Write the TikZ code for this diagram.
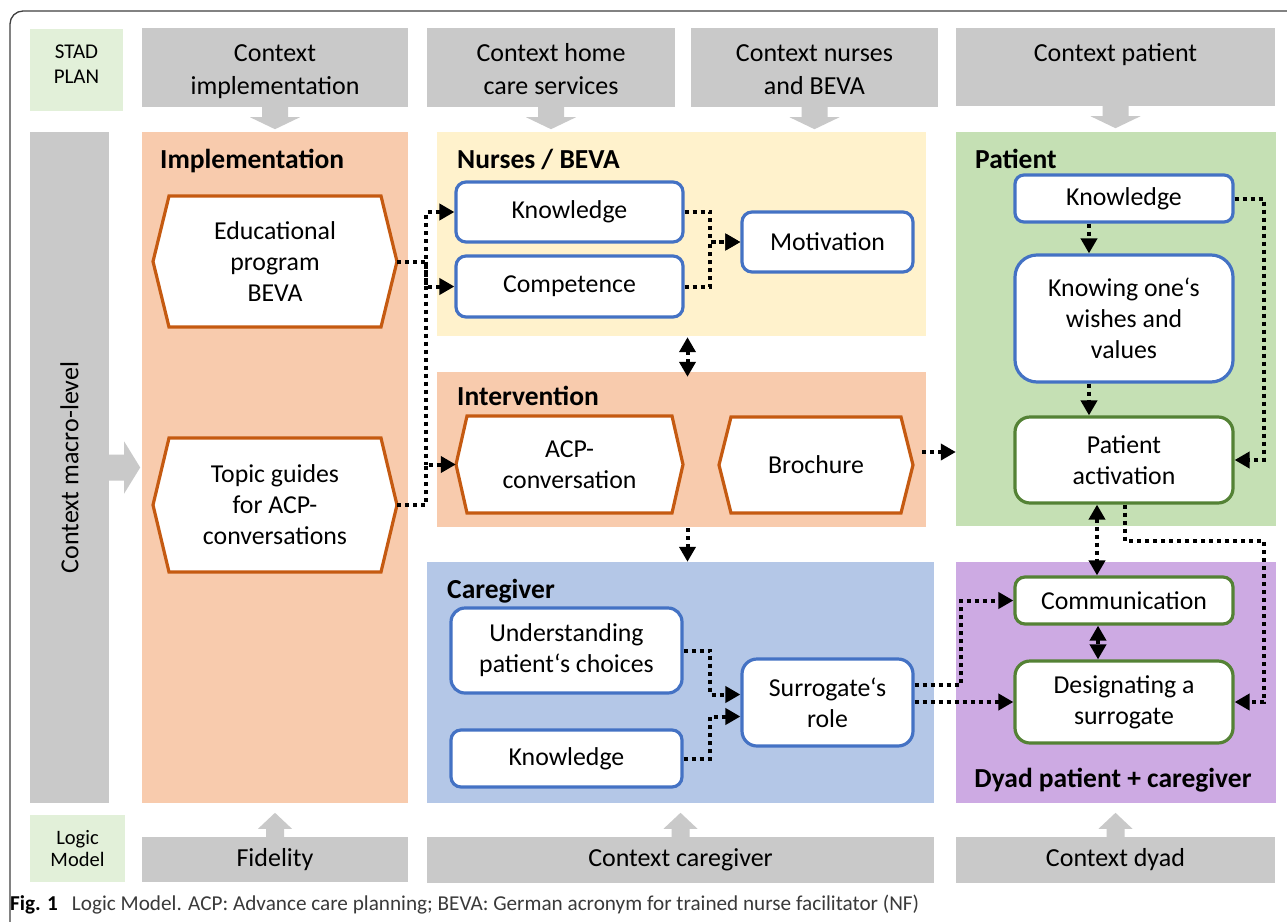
\documentclass[tikz,border=0pt]{standalone}
\usepackage{fontspec}
\setmainfont{Carlito}
\usetikzlibrary{arrows.meta,calc}
\definecolor{ctxgray}{HTML}{C9C9C9}
\definecolor{lblgreen}{HTML}{E2F0D9}
\definecolor{implor}{HTML}{F8CBAD}
\definecolor{nurseyel}{HTML}{FFF2CC}
\definecolor{patgreen}{HTML}{C5E0B4}
\definecolor{carblue}{HTML}{B4C7E7}
\definecolor{dyadpur}{HTML}{CDAAE3}
\definecolor{hexor}{HTML}{C55A11}
\definecolor{boxblue}{HTML}{4472C4}
\definecolor{boxgreen}{HTML}{548235}
\definecolor{capgray}{HTML}{3A3A3A}
\newcommand\mybox[7]{\node[#6, minimum width={(#4)-(#2)}, minimum height={(#5)-(#3)}] (#1) at ({((#2)+(#4))/2},{((#3)+(#5))/2}) {#7};}
\newcommand\myhex[7]{%
  \filldraw[hexline] (#2,{((#3)+(#5))/2}) -- ({(#2)+(#6)},#3) -- ({(#4)-(#6)},#3) -- (#4,{((#3)+(#5))/2}) -- ({(#4)-(#6)},#5) -- ({(#2)+(#6)},#5) -- cycle;
  \mybox{#1}{#2}{#3}{#4}{#5}{hexnode}{#7}}
\newcommand\dnarr[1]{\fill[ctxgray] (#1) ++(-13,0) -- ++(0,10) -- ++(-12,0) -- ++(25,12) -- ++(25,-12) -- ++(-12,0) -- ++(0,-10) -- cycle;}
\newcommand\uparr[1]{\fill[ctxgray] (#1) ++(-9,0) -- ++(0,-8) -- ++(-8,0) -- ++(17,-16) -- ++(17,16) -- ++(-8,0) -- ++(0,8) -- cycle;}
\newcommand\shiftlines[2]{\raisebox{#1}[\height][\depth]{\begin{tabular}{@{}c@{}}#2\end{tabular}}}
\tikzset{
  txt/.style={font=\fontsize{25.8}{31}\selectfont, align=center, inner sep=0pt},
  ctxbox/.style={fill=ctxgray, font=\fontsize{26}{33}\selectfont, align=center, inner sep=0pt},
  lblbox/.style={fill=lblgreen, font=\fontsize{21}{25}\selectfont, align=center, inner sep=0pt},
  panel/.style={inner sep=0pt},
  bbox/.style={txt, fill=white, draw=boxblue, line width=3.2pt},
  gbox/.style={txt, fill=white, draw=boxgreen, line width=3.2pt},
  hexnode/.style={txt},
  hexline/.style={fill=white, draw=hexor, line width=3.2pt, line join=miter},
  ttl/.style={font=\bfseries\fontsize{27.5}{32}\selectfont, anchor=base west, inner sep=0pt},
  dotline/.style={draw=black, line width=4pt, dash pattern=on 4pt off 4pt},
  dotarrow/.style={dotline, -{Triangle[length=15pt,width=16pt]}},
  dotboth/.style={dotline, {Triangle[length=15pt,width=16pt]}-{Triangle[length=15pt,width=16pt]}},
}
\begin{document}
\begin{tikzpicture}[x=1pt,y=-1pt]
\useasboundingbox (0,0) rectangle (1287,921);
\fill[white] (0,0) rectangle (1287,921);
\draw[line width=1.3pt, draw=black!75, rounded corners=13pt] (1300,11) -- (10,11) -- (10,935);

% left labels
\mybox{stad}{30}{29}{123}{111}{lblbox}{\shiftlines{4pt}{STAD\\PLAN}}
\mybox{logic}{30}{815}{125}{882}{lblbox, font=\fontsize{20.5}{22}\selectfont}{Logic\\Model}
\mybox{macro}{30}{132}{109}{803}{ctxbox}{\rotatebox{90}{Context macro-level}}

% context boxes
\mybox{ci}{142}{28}{408}{107}{ctxbox}{\shiftlines{-4pt}{Context\\implementation}}
\mybox{chc}{427}{28}{675}{107}{ctxbox}{\shiftlines{-4pt}{Context home\\care services}}
\mybox{cnb}{691}{28}{938}{107}{ctxbox}{\shiftlines{-4pt}{Context nurses\\and BEVA}}
\mybox{cp}{956}{28}{1275}{106}{ctxbox}{\shiftlines{-4pt}{Context patient\\~}}
\mybox{fid}{142}{837}{408}{882}{ctxbox}{Fidelity}
\mybox{ccg}{427}{837}{934}{883}{ctxbox}{Context caregiver}
\mybox{cdy}{956}{837}{1275}{883}{ctxbox}{Context dyad}

% panels
\mybox{impl}{142}{132}{408}{803}{panel,fill=implor}{}
\mybox{nurses}{437}{132}{926}{336}{panel,fill=nurseyel}{}
\mybox{interv}{437}{372}{926}{527}{panel,fill=implor}{}
\mybox{carg}{427}{562}{934}{803}{panel,fill=carblue}{}
\mybox{patient}{956}{132}{1276}{526}{panel,fill=patgreen}{}
\mybox{dyad}{956}{562}{1276}{803}{panel,fill=dyadpur}{}

% block arrows
\dnarr{ci.south}
\dnarr{chc.south}
\dnarr{cnb.south}
\dnarr{cp.south}
\uparr{fid.north}
\uparr{ccg.north}
\uparr{cdy.north}
\fill[ctxgray] (macro.east) ++(0,-13) -- ++(15,0) -- ++(0,-13) -- ++(16,26) -- ++(-16,26) -- ++(0,-13) -- ++(-15,0) -- cycle;

% titles
\node[ttl] (timpl) at (160,168) {Implementation};
\node[ttl] (tnur) at (457,168) {Nurses / BEVA};
\node[ttl] (tint) at (457,405) {Intervention};
\node[ttl] (tcar) at (447,598) {Caregiver};
\node[ttl] (tpat) at (975,168) {Patient};
\node[ttl, anchor=base] (tdy) at (1113,787) {Dyad patient + caregiver};

% implementation
\myhex{edu}{153}{196}{397}{327}{16}{Educational\\program\\BEVA}
\myhex{topic}{153}{438}{397}{572}{16}{Topic guides\\for ACP-\\conversations}

% nurses
\mybox{nk}{456}{182}{683}{242}{bbox, rounded corners=10pt}{Knowledge}
\mybox{nc}{456}{256}{683}{317}{bbox, rounded corners=10pt}{Competence}
\mybox{mot}{742}{212}{913}{272}{bbox, rounded corners=10pt}{Motivation}

% intervention
\myhex{acp}{456}{416}{683}{513}{11}{ACP-\\conversation}
\myhex{broch}{719}{417}{913}{513}{12}{Brochure}

% caregiver
\mybox{und}{451}{608}{682}{693}{bbox, rounded corners=14pt}{Understanding\\patient‘s choices}
\mybox{ck}{451}{730}{682}{787}{bbox, rounded corners=10pt}{Knowledge}
\mybox{sur}{742}{659}{913}{746}{bbox, rounded corners=15pt}{Surrogate‘s\\role}

% patient
\mybox{pk}{1015}{175}{1233}{222}{bbox, rounded corners=9pt}{Knowledge}
\mybox{pkw}{1015}{255}{1233}{382}{bbox, rounded corners=22pt}{Knowing one‘s\\wishes and\\values}
\mybox{pa}{1015}{417}{1233}{503}{gbox, rounded corners=15pt}{Patient\\activation}

% dyad
\mybox{comm}{1015}{577}{1233}{624}{gbox, rounded corners=10pt}{Communication}
\mybox{des}{1015}{661}{1233}{743}{gbox, rounded corners=15pt}{Designating a\\surrogate}

% connectors
\coordinate (j1) at ($(edu.east)+(29,0)$);
\draw[dotarrow] (edu.east) -- (j1) |- (nk.west);
\draw[dotarrow] (edu.east) -- (j1) |- (nc.west);
\draw[dotline] (j1) -- (j1 |- acp.west);
\draw[dotarrow] (topic.east) -| (j1 |- acp.west) -- (acp.west);
\coordinate (j2) at ($(mot.west)+(-30,0)$);
\draw[dotarrow] (nk.east) -| (j2) -- (mot.west);
\draw[dotarrow] (nc.east) -| (j2) -- (mot.west);
\draw[dotboth] ($(nurses.south)+(6,1)$) -- ($(interv.north)+(6,5)$);
\coordinate (b1) at ($(broch.east)+(9,-13)$);
\draw[dotarrow] (b1) -- (b1 -| patient.west);
\coordinate (i1) at ($(interv.south)+(6,1)$);
\draw[dotarrow] (i1) -- (i1 |- carg.north);
\draw[dotarrow] (und.east) -| ($(sur.west)+(-30,-8)$) -- ($(sur.west)+(0,-8)$);
\draw[dotarrow] (ck.east) -| ($(sur.west)+(-30,14)$) -- ($(sur.west)+(0,14)$);
\draw[dotarrow] ($(sur.east)+(0,-18)$) -| ($(comm.west)+(-52,0)$) -- (comm.west);
\draw[dotarrow] (sur.east |- des.west) -- (des.west);
\draw[dotarrow] ($(pk.south)+(-35,0)$) -- ($(pkw.north)+(-35,0)$);
\draw[dotarrow] ($(pkw.south)+(-35,0)$) -- ($(pa.north)+(-35,0)$);
\draw[dotarrow] (pk.east) -| ($(pa.east)+(29,0)$) -- (pa.east);
\draw[dotboth] ($(pa.south)+(-27,0)$) -- ($(comm.north)+(-27,0)$);
\draw[dotarrow] ($(pa.south)+(1,0)$) -- ++(0,36) -| ($(des.east)+(29,0)$) -- (des.east);
\draw[dotboth] ($(comm.south)+(-26,0)$) -- ($(des.north)+(-26,0)$);

% caption
\node[anchor=base west, inner sep=0pt, font=\fontsize{21.2}{24}\selectfont] (cap) at (10,910) {\textbf{Fig. 1}\hspace{14pt}{\color{capgray}Logic Model. ACP: Advance care planning; BEVA: German acronym for trained nurse facilitator (NF)}};
\end{tikzpicture}
\end{document}
